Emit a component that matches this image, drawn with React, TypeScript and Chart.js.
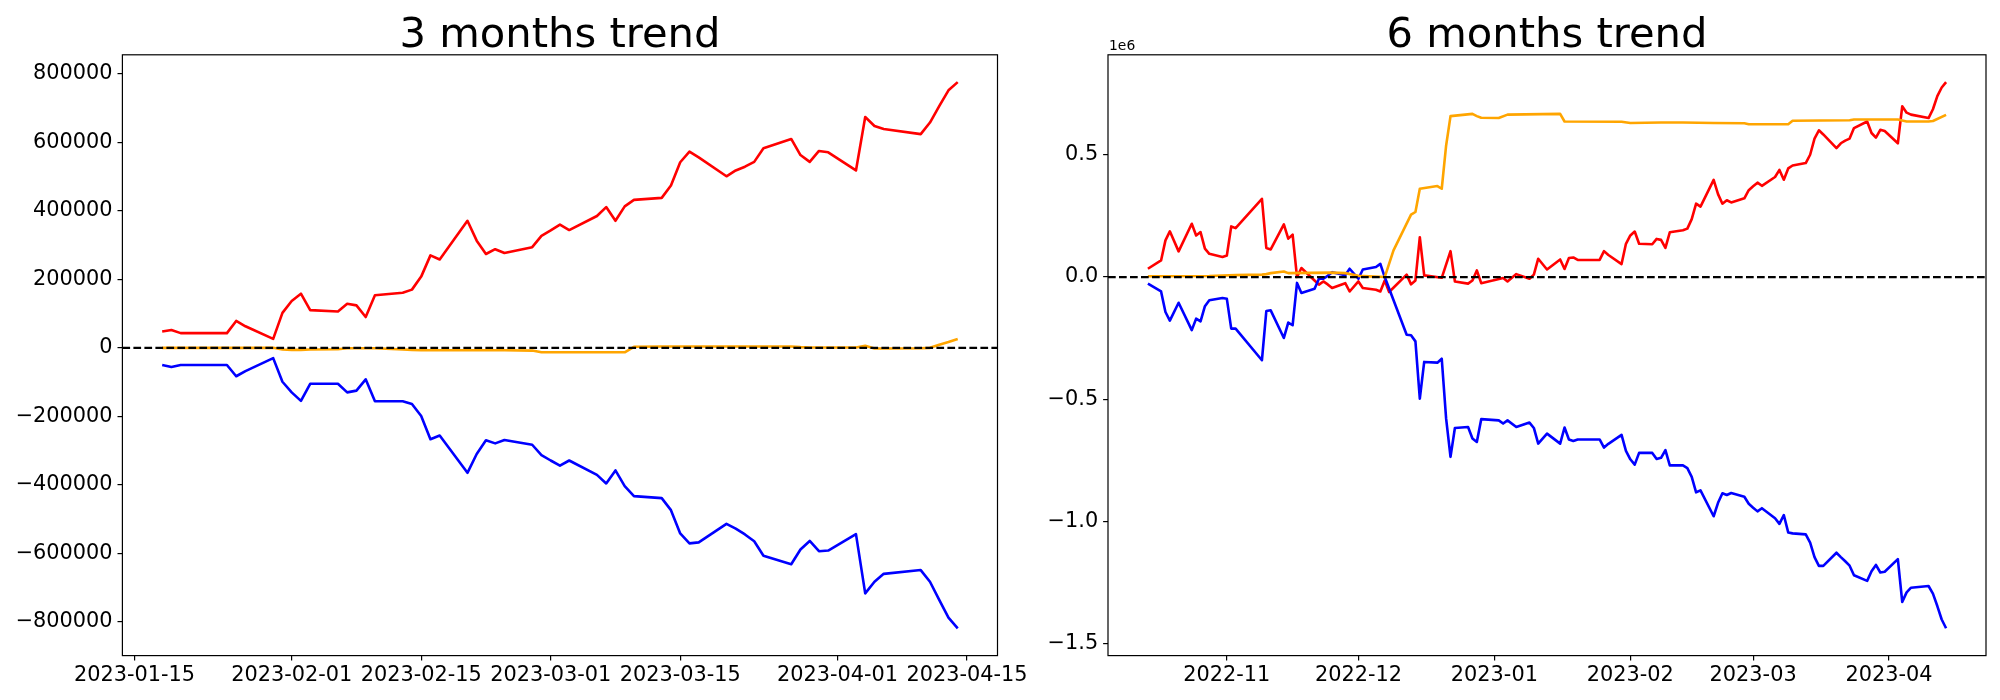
import React, { useEffect, useRef } from 'react';
import { Chart, registerables } from 'chart.js';

Chart.register(...registerables);

// ---------- 3 months trend ----------
const dates3m = ['2023-01-18','2023-01-19','2023-01-20','2023-01-25','2023-01-26','2023-01-27','2023-01-30','2023-01-31','2023-02-01','2023-02-02','2023-02-03','2023-02-06','2023-02-07','2023-02-08','2023-02-09','2023-02-10','2023-02-13','2023-02-14','2023-02-15','2023-02-16','2023-02-17','2023-02-20','2023-02-21','2023-02-22','2023-02-23','2023-02-24','2023-02-27','2023-02-28','2023-03-01','2023-03-02','2023-03-03','2023-03-06','2023-03-07','2023-03-08','2023-03-09','2023-03-10','2023-03-13','2023-03-14','2023-03-15','2023-03-16','2023-03-17','2023-03-20','2023-03-21','2023-03-22','2023-03-23','2023-03-24','2023-03-27','2023-03-28','2023-03-29','2023-03-30','2023-03-31','2023-04-03','2023-04-04','2023-04-05','2023-04-06','2023-04-10','2023-04-11','2023-04-12','2023-04-13','2023-04-14'];
const red3m = [47600,52000,43000,43000,78600,63000,26000,102000,137000,158000,110000,106000,128600,124000,90000,153600,161000,170000,208000,270000,258000,371000,313000,274000,288000,277000,294000,327000,343000,360000,344000,385000,411000,371000,413000,432000,438000,474000,542000,573000,556000,501000,518000,529000,543000,583000,610000,563000,543000,575000,571000,518000,674000,648000,639000,624000,658000,706000,752000,776000];
const blue3m = [-50000,-56000,-50000,-50000,-83000,-68000,-30000,-99000,-130000,-155000,-105000,-105000,-130000,-125000,-92000,-156000,-156000,-164000,-199000,-267000,-256000,-365000,-310000,-270000,-279000,-269000,-283000,-313000,-329000,-344000,-329000,-371000,-396000,-358000,-404000,-433000,-439000,-474000,-542000,-571000,-568000,-514000,-528000,-545000,-565000,-607000,-632000,-589000,-564000,-594000,-592000,-544000,-717000,-683000,-660000,-649000,-683000,-736000,-788000,-819000];
const orange3m = [0,0,0,0,0,0,0,-5000,-6000,-6000,-5000,-4000,-1000,-1000,-1000,-1000,-5000,-6000,-7000,-7000,-7000,-7000,-7000,-7000,-7000,-7000,-8000,-13000,-13000,-13000,-13000,-13000,-13000,-13000,-13000,3000,4000,4000,4000,4000,4000,4000,4000,4000,4000,4000,4000,2000,1000,1000,1000,1000,6000,-2000,-2000,-1000,0,9000,17000,26000];
const xTicks3m = ['2023-01-15','2023-02-01','2023-02-15','2023-03-01','2023-03-15','2023-04-01','2023-04-15'];
const xTickLabels3m = ['2023-01-15','2023-02-01','2023-02-15','2023-03-01','2023-03-15','2023-04-01','2023-04-15'];
const yTicks3m = [-800000,-600000,-400000,-200000,0,200000,400000,600000,800000];

// ---------- 6 months trend (values in units of 1e6) ----------
const dates6m = ['2022-10-14','2022-10-17','2022-10-18','2022-10-19','2022-10-21','2022-10-24','2022-10-25','2022-10-26','2022-10-27','2022-10-28','2022-10-31','2022-11-01','2022-11-02','2022-11-03','2022-11-09','2022-11-10','2022-11-11','2022-11-14','2022-11-15','2022-11-16','2022-11-17','2022-11-18','2022-11-21','2022-11-22','2022-11-23','2022-11-24','2022-11-25','2022-11-28','2022-11-29','2022-12-01','2022-12-02','2022-12-05','2022-12-06','2022-12-07','2022-12-08','2022-12-09','2022-12-12','2022-12-13','2022-12-14','2022-12-15','2022-12-16','2022-12-19','2022-12-20','2022-12-21','2022-12-22','2022-12-23','2022-12-26','2022-12-27','2022-12-28','2022-12-29','2023-01-02','2023-01-03','2023-01-04','2023-01-06','2023-01-09','2023-01-10','2023-01-11','2023-01-13','2023-01-16','2023-01-17','2023-01-18','2023-01-19','2023-01-20','2023-01-25','2023-01-26','2023-01-27','2023-01-30','2023-01-31','2023-02-01','2023-02-02','2023-02-03','2023-02-06','2023-02-07','2023-02-08','2023-02-09','2023-02-10','2023-02-13','2023-02-14','2023-02-15','2023-02-16','2023-02-17','2023-02-20','2023-02-21','2023-02-22','2023-02-23','2023-02-24','2023-02-27','2023-02-28','2023-03-01','2023-03-02','2023-03-03','2023-03-06','2023-03-07','2023-03-08','2023-03-09','2023-03-10','2023-03-13','2023-03-14','2023-03-15','2023-03-16','2023-03-17','2023-03-20','2023-03-21','2023-03-22','2023-03-23','2023-03-24','2023-03-27','2023-03-28','2023-03-29','2023-03-30','2023-03-31','2023-04-03','2023-04-04','2023-04-05','2023-04-06','2023-04-10','2023-04-11','2023-04-12','2023-04-13','2023-04-14'];
const red6m = [0.034,0.068,0.150,0.187,0.105,0.218,0.170,0.184,0.116,0.095,0.082,0.088,0.207,0.200,0.320,0.119,0.113,0.215,0.157,0.173,0.000,0.037,-0.014,-0.031,-0.018,-0.030,-0.045,-0.025,-0.059,-0.018,-0.045,-0.052,-0.059,-0.014,-0.061,null,0.010,-0.030,-0.014,0.163,0.007,null,-0.003,null,0.106,-0.018,-0.027,-0.014,0.027,-0.025,null,-0.004,-0.018,0.012,-0.007,0.010,0.075,0.031,0.072,0.033,0.078,0.080,0.070,0.070,0.106,0.090,0.053,0.136,0.170,0.186,0.136,0.134,0.156,0.152,0.119,0.183,0.191,0.198,0.237,0.300,0.288,0.397,0.339,0.300,0.314,0.305,0.322,0.355,0.371,0.386,0.373,0.409,0.438,0.398,0.444,0.456,0.466,0.500,0.566,0.600,0.583,0.527,0.547,0.558,0.566,0.609,0.636,0.589,0.570,0.602,0.597,0.547,0.698,0.672,0.664,0.650,0.686,0.740,0.775,0.797];
const blue6m = [-0.027,-0.059,-0.143,-0.178,-0.105,-0.217,-0.170,-0.181,-0.119,-0.095,-0.086,-0.089,-0.211,-0.211,-0.340,-0.139,-0.136,-0.249,-0.186,-0.197,-0.024,-0.065,-0.048,-0.007,-0.007,0.005,0.020,0.007,0.034,-0.007,0.031,0.041,0.054,0.000,null,null,-0.236,-0.238,-0.263,-0.497,-0.347,-0.350,-0.334,-0.579,-0.735,-0.617,-0.613,-0.660,-0.674,-0.581,-0.586,-0.599,-0.586,-0.613,-0.595,-0.617,-0.681,-0.640,-0.681,-0.615,-0.664,-0.670,-0.664,-0.664,-0.697,-0.682,-0.645,-0.711,-0.745,-0.767,-0.719,-0.719,-0.744,-0.739,-0.708,-0.770,-0.770,-0.781,-0.817,-0.880,-0.872,-0.978,-0.923,-0.884,-0.891,-0.883,-0.898,-0.927,-0.943,-0.958,-0.945,-0.986,-1.009,-0.973,-1.044,-1.048,-1.052,-1.086,-1.145,-1.181,-1.181,-1.127,-1.145,-1.162,-1.180,-1.219,-1.242,-1.203,-1.177,-1.208,-1.205,-1.153,-1.328,-1.289,-1.270,-1.263,-1.294,-1.345,-1.400,-1.436];
const orange6m = [0.003,null,null,null,null,null,null,null,null,0.004,null,null,null,0.008,0.010,0.012,0.016,0.023,0.016,null,null,null,null,null,null,null,0.018,0.016,null,0.005,null,null,null,0.000,null,0.109,null,0.255,0.266,0.361,null,0.372,0.361,0.538,0.658,null,null,0.667,0.658,0.651,0.650,null,0.664,null,null,null,null,null,0.667,0.636,null,null,null,null,null,null,0.635,null,0.630,null,null,null,null,0.632,null,null,0.632,null,null,null,null,0.630,null,null,null,null,0.629,0.625,null,null,null,null,null,null,0.625,0.639,null,null,null,null,null,null,null,null,0.641,0.644,null,null,null,null,null,0.644,null,0.636,null,0.636,0.638,null,null,0.663];
const xTicks6m = ['2022-11-01','2022-12-01','2023-01-01','2023-02-01','2023-03-01','2023-04-01'];
const xTickLabels6m = ['2022-11','2022-12','2023-01','2023-02','2023-03','2023-04'];
const yTicks6m = [-1.5,-1.0,-0.5,0,0.5];

const toDay = (s: string) => Date.UTC(+s.slice(0, 4), +s.slice(5, 7) - 1, +s.slice(8, 10)) / 86400000;
const minus = (s: string) => s.replace('-', '\u2212');
const FONT = '"DejaVu Sans", sans-serif';

const framePlugin = {
  id: 'frame',
  afterDatasetsDraw(chart: any, _args: any, opts: any) {
    const { ctx, chartArea: a, scales } = chart;
    const y0 = scales.y.getPixelForValue(0);
    ctx.save();
    ctx.strokeStyle = 'black';
    ctx.lineWidth = 2.2;
    ctx.setLineDash([7.7, 3.3]);
    ctx.beginPath();
    ctx.moveTo(a.left, y0);
    ctx.lineTo(a.right, y0);
    ctx.stroke();
    ctx.setLineDash([]);
    ctx.lineWidth = 1.2;
    ctx.strokeRect(a.left, a.top, a.right - a.left, a.bottom - a.top);
    ctx.fillStyle = 'black';
    ctx.textBaseline = 'alphabetic';
    ctx.textAlign = 'center';
    ctx.font = `41.67px ${FONT}`;
    ctx.fillText(opts.title, (a.left + a.right) / 2, a.top - 8.3);
    if (opts.offsetText) {
      ctx.textAlign = 'left';
      ctx.font = `13.9px ${FONT}`;
      ctx.fillText(opts.offsetText, a.left + 1, a.top - 4.5);
    }
    ctx.restore();
  },
};

type Cfg = {
  title: string; offsetText?: string;
  dates: string[]; red: (number | null)[]; blue: (number | null)[]; orange: (number | null)[];
  xTicks: string[]; xTickLabels: string[]; yTicks: number[]; yFmt: (v: number) => string;
  yAxisWidth: number; padRight: number; width: number; left: number;
};

function TrendChart({ cfg }: { cfg: Cfg }) {
  const ref = useRef<HTMLCanvasElement>(null);
  useEffect(() => {
    const xs = cfg.dates.map(toDay);
    const mk = (vals: (number | null)[], color: string) => ({
      data: xs.map((x, i) => ({ x, y: vals[i] })),
      borderColor: color,
      backgroundColor: color,
      borderWidth: 2.6,
      borderJoinStyle: 'round' as const,
      pointRadius: 0,
      tension: 0,
      spanGaps: true,
      fill: false,
    });
    const all = [...cfg.red, ...cfg.blue, ...cfg.orange].filter((v) => v != null) as number[];
    const ymin = Math.min(...all), ymax = Math.max(...all);
    const yr = ymax - ymin;
    const x0 = xs[0], x1 = xs[xs.length - 1], xr = x1 - x0;
    const font = { family: FONT, size: 20.83 };
    const chart = new Chart(ref.current as HTMLCanvasElement, {
      type: 'line',
      data: { datasets: [mk(cfg.orange, 'orange'), mk(cfg.blue, 'blue'), mk(cfg.red, 'red')] as any },
      options: {
        animation: false,
        responsive: false,
        devicePixelRatio: 1,
        layout: { padding: { left: 0, top: 54.8, right: cfg.padRight, bottom: 0 } },
        plugins: {
          legend: { display: false },
          tooltip: { enabled: false },
          title: { display: false },
          frame: { title: cfg.title, offsetText: cfg.offsetText },
        } as any,
        scales: {
          x: {
            type: 'linear',
            min: x0 - 0.05 * xr,
            max: x1 + 0.05 * xr,
            afterBuildTicks: (s: any) => { s.ticks = cfg.xTicks.map((t) => ({ value: toDay(t) })); },
            afterFit: (s: any) => { s.height = 44.4; },
            ticks: {
              autoSkip: false, maxRotation: 0, minRotation: 0, padding: 3, color: 'black', font,
              callback: (_v: any, i: number) => cfg.xTickLabels[i],
            },
            grid: { display: true, drawOnChartArea: false, drawTicks: true, tickLength: 4.9, color: 'black', lineWidth: 1.2 },
            border: { display: false },
          },
          y: {
            type: 'linear',
            min: ymin - 0.05 * yr,
            max: ymax + 0.05 * yr,
            afterBuildTicks: (s: any) => { s.ticks = cfg.yTicks.map((v) => ({ value: v })); },
            afterFit: (s: any) => { s.width = cfg.yAxisWidth; },
            ticks: {
              autoSkip: false, padding: 4.9, color: 'black', font,
              callback: (v: any) => cfg.yFmt(Number(v)),
            },
            grid: { display: true, drawOnChartArea: false, drawTicks: true, tickLength: 4.9, color: 'black', lineWidth: 1.2 },
            border: { display: false },
          },
        },
      } as any,
      plugins: [framePlugin as any],
    });
    return () => chart.destroy();
  }, [cfg]);
  return (
    <canvas
      ref={ref}
      width={cfg.width}
      height={700}
      style={{ position: 'absolute', left: cfg.left, top: 0, width: cfg.width, height: 700 }}
    />
  );
}

const cfg3m: Cfg = {
  title: '3 months trend',
  dates: dates3m, red: red3m, blue: blue3m, orange: orange3m,
  xTicks: xTicks3m, xTickLabels: xTickLabels3m, yTicks: yTicks3m,
  yFmt: (v) => minus(String(v)),
  yAxisWidth: 122.4, padRight: 102.5, width: 1100, left: 0,
};

const cfg6m: Cfg = {
  title: '6 months trend', offsetText: '1e6',
  dates: dates6m, red: red6m, blue: blue6m, orange: orange6m,
  xTicks: xTicks6m, xTickLabels: xTickLabels6m, yTicks: yTicks6m,
  yFmt: (v) => minus(v.toFixed(1)),
  yAxisWidth: 108, padRight: 14, width: 1000, left: 1000,
};

export default function App() {
  return (
    <div style={{ position: 'absolute', left: 0, top: 0, width: 2000, height: 700, background: 'white', overflow: 'hidden' }}>
      <TrendChart cfg={cfg3m} />
      <TrendChart cfg={cfg6m} />
    </div>
  );
}
